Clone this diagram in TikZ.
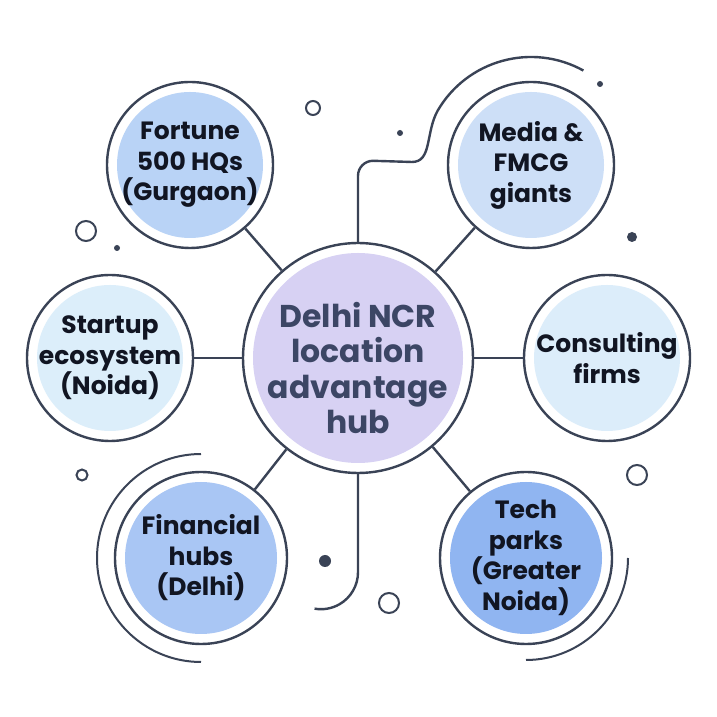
\documentclass[tikz,border=0pt]{standalone}
\usepackage{fontspec}
\setmainfont{Poppins}
\usetikzlibrary{positioning,calc}
\definecolor{ink}{HTML}{3A4356}
\definecolor{hubink}{HTML}{3C4665}
\definecolor{leafink}{HTML}{111522}
\definecolor{hubfill}{HTML}{D7D1F3}
\definecolor{fortunefill}{HTML}{B9D3F6}
\definecolor{mediafill}{HTML}{CDDFF7}
\definecolor{startupfill}{HTML}{DCEEFA}
\definecolor{consultfill}{HTML}{DCEDFA}
\definecolor{financefill}{HTML}{A9C6F4}
\definecolor{techfill}{HTML}{90B5F1}
\tikzset{
    every node/.style={font=\bfseries},
    leaf/.style={circle,draw=ink,line width=2.4pt,fill=white,inner sep=0pt,align=center,
        minimum size=166pt,text=leafink,font=\fontsize{25}{30.5}\selectfont\bfseries,
        path picture={\fill[#1] let \p1=($(path picture bounding box.east)-(path picture bounding box.center)$)
            in (path picture bounding box.center) circle ({\x1-10pt});}},
    hubnode/.style={leaf=hubfill,minimum size=230pt},
    hubtext/.style={align=center,text=hubink,font=\fontsize{31.5}{35.5}\selectfont\bfseries,yshift=-10pt},
    link/.style={draw=ink,line width=2.4pt},
    ring/.style={draw=ink,line width=2pt},
    dot/.style={fill=ink}
}
\begin{document}
\begin{tikzpicture}[x=1pt,y=1pt,on grid]
    \fill[white] (0,0) rectangle (717,717);
    \useasboundingbox (0,0) rectangle (717,717);
    \node[hubnode,label={[hubtext]center:Delhi NCR\\location\\advantage\\hub}] (hub) at (358,359) {};
    \node[leaf=fortunefill,above left=193pt and 168pt of hub] (fortune) {Fortune\\500 HQs\\(Gurgaon)};
    \node[leaf=mediafill,above right=193pt and 173pt of hub] (media) {Media \&\\FMCG\\giants};
    \node[leaf=startupfill,left=248pt of hub] (startup) {Startup\\ecosystem\\(Noida)};
    \node[leaf=consultfill,right=249pt of hub] (consult) {Consulting\\firms};
    \node[leaf=financefill,minimum size=172pt,below left=200pt and 157pt of hub] (finance) {Financial\\hubs\\(Delhi)};
    \node[leaf=techfill,minimum size=172pt,below right=200pt and 168pt of hub] (tech) {Tech\\parks\\(Greater\\Noida)};
    \draw[link] (hub) -- (fortune);
    \draw[link] (hub) -- (media);
    \draw[link] (hub) -- (startup);
    \draw[link] (hub) -- (consult);
    \draw[link] (hub) -- (finance);
    \draw[link] (hub) -- (tech);
    \coordinate (bend) at (412,555);
    \draw[link] (hub.north) -- ++(0,66) arc[start angle=180,end angle=90,radius=15] -- (bend)
        .. controls +(20,0) and +(-12,-22) .. ($(media.center)+(150:108)$)
        arc[start angle=150,end angle=61,radius=108];
    \draw[link] (hub.south) -- ++(0,-98) arc[start angle=0,end angle=-100,radius=37];
    \draw[ring] ($(finance.center)+(90:104)$) arc[start angle=90,end angle=270,radius=104];
    \draw[ring] ($(tech.center)+(0:102)$) arc[start angle=0,end angle=-90,radius=102];
    \fill[dot] (117,469) circle (3) (400,584) circle (3) (600,633) circle (3)
        (632,480) circle (5) (325,156) circle (6);
    \draw[ring] (313,609) circle (7) (86,486) circle (10) (82,242) circle (5.5)
        (637,242) circle (10) (389,114) circle (10);
\end{tikzpicture}
\end{document}
